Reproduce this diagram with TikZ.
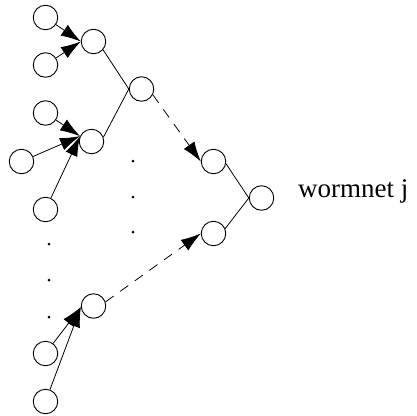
\documentclass[tikz,border=0pt]{standalone}
\usepackage{fontspec}
\setmainfont{Liberation Serif}
\usetikzlibrary{arrows.meta}
\begin{document}
\begin{tikzpicture}[x=1pt,y=-1pt,
  unit/.style={draw,circle,minimum size=24.5pt,inner sep=0pt,line width=0.9pt},
  feed/.style={line width=0.8pt,-{Latex[length=20pt,width=13pt]}},
  link/.style={line width=0.8pt},
  far/.style={line width=0.8pt,dash pattern=on 10pt off 8pt,-{Latex[length=20pt,width=13pt]}},
  dotm/.style={circle,fill,inner sep=0pt,minimum size=3pt}]
\useasboundingbox (0,0) rectangle (417,415);
% leaves
\node[unit] (a) at (45.5,17.5) {};
\node[unit] (b) at (45.5,65) {};
\node[unit] (c) at (45.5,113) {};
\node[unit] (d) at (21.5,161.5) {};
\node[unit] (e) at (45.5,209.5) {};
\node[unit] (f) at (45.5,353.5) {};
\node[unit] (g) at (45.5,401.5) {};
% middle layer
\node[unit] (m1) at (93.5,41.5) {};
\node[unit] (m2) at (91.5,141.5) {};
\node[unit] (m3) at (93.5,306) {};
\node[unit] (m) at (141.5,89) {};
% right
\node[unit] (tr) at (213.5,161.5) {};
\node[unit] (br) at (213.5,233.5) {};
\node[unit] (root) at (261.5,198) {};
\node[anchor=base west,inner sep=0pt,font=\fontsize{27}{30}\selectfont] (lbl) at (298,197) {wormnet j};
% dots
\node[dotm] (p1) at (49,244) {};
\node[dotm] (p2) at (49,280) {};
\node[dotm] (p3) at (49,317) {};
\node[dotm] (q1) at (133,161) {};
\node[dotm] (q2) at (133,197) {};
\node[dotm] (q3) at (133,232) {};
% connectors
\draw[feed] (a) -- (m1.west);
\draw[feed] (b) -- (m1.west);
\draw[feed] (c) -- (m2.155);
\draw[feed] (d) -- (m2.155);
\draw[feed] (e) -- (m2.155);
\draw[feed] (f) -- (m3.185);
\draw[feed] (g) -- (m3.185);
\draw[link] (m1.-41) -- (m.west);
\draw[link] (m2.20) -- (m.west);
\draw[far] (m.-27) -- (tr.west);
\draw[far] (m3.19) -- (br.west);
\draw[link] (tr.-10) -- (root.west);
\draw[link] (br.23) -- (root.west);
\end{tikzpicture}
\end{document}
